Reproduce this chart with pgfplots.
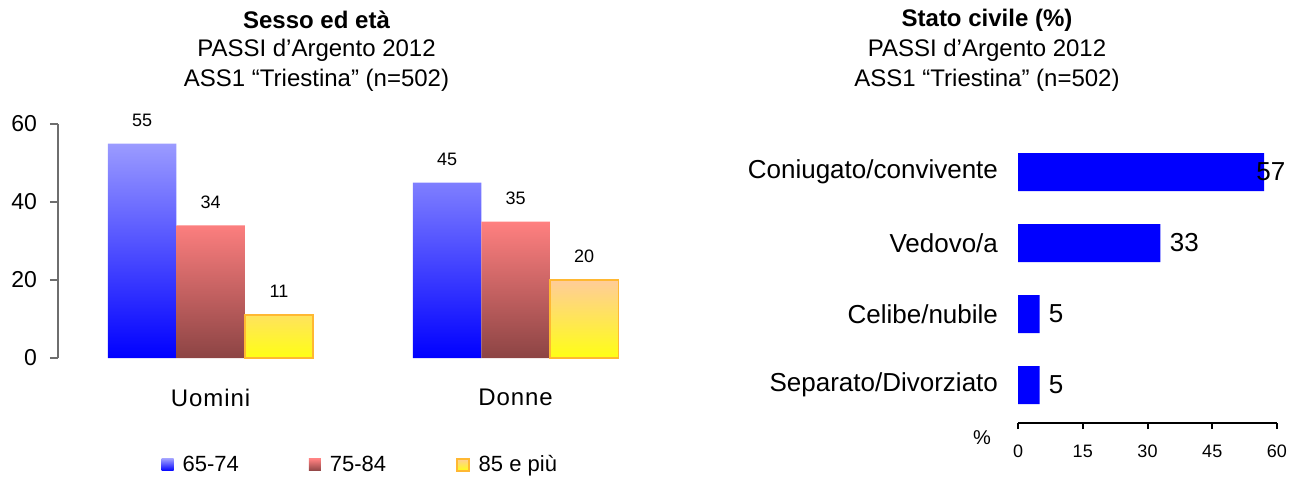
\documentclass[border=0pt]{standalone}
\usepackage{fontspec}
\setmainfont{Liberation Sans}
\usepackage{pgfplots}
\pgfplotsset{compat=1.18}

\definecolor{blueTop}{RGB}{155,155,255}
\definecolor{blueBot}{RGB}{0,0,255}
\definecolor{redTop}{RGB}{255,128,128}
\definecolor{redBot}{RGB}{140,68,68}
\definecolor{yelTop}{RGB}{255,204,153}
\definecolor{yelBot}{RGB}{255,255,20}
\definecolor{yelEdge}{RGB}{255,184,50}
\definecolor{axisGray}{RGB}{110,110,110}

\newcommand{\fs}[1]{\fontsize{#1}{#1}\selectfont}

\begin{document}
\begin{tikzpicture}
\path[use as bounding box] (0,0) rectangle (650pt,238.5pt);

% ---- titles ----
\node[font=\bfseries\fs{12}] at (158.25pt,228.5pt) {Sesso ed età};
\node[font=\fs{12}] at (158.25pt,213.5pt) {PASSI d’Argento 2012};
\node[font=\fs{12}] at (158.25pt,198.5pt) {ASS1 “Triestina” (n=502)};

\node[font=\bfseries\fs{12}] at (493.5pt,228.5pt) {Stato civile (\%)};
\node[font=\fs{12}] at (493.5pt,213.5pt) {PASSI d’Argento 2012};
\node[font=\fs{12}] at (493.5pt,198.5pt) {ASS1 “Triestina” (n=502)};

% ---- sex and age groups ----
\begin{axis}[
  at={(29pt,59.5pt)}, anchor=south west,
  scale only axis, width=291pt, height=117pt,
  xmin=-0.5, xmax=1.408, ymin=0, ymax=60,
  ybar=0pt, bar width=34.25pt,
  axis y line*=left, axis x line*=bottom,
  x axis line style={draw=none},
  xtick={0,1}, xticklabels={Uomini,Donne}, xtick style={draw=none},
  xticklabel style={font=\fs{12}\addfontfeature{LetterSpace=4}, yshift=-8pt},
  ytick={0,20,40,60},
  y axis line style={axisGray, line width=0.6pt},
  ytick style={axisGray, line width=0.6pt},
  tick align=outside, major tick length=4pt,
  yticklabel style={font=\fs{11.5}, xshift=-3pt},
  /pgf/number format/assume math mode=true,
  nodes near coords,
  every node near coord/.append style={font=\fs{9}, black, yshift=5pt},
  legend columns=3,
  legend style={at={(axis description cs:0.167,-0.457)}, anchor=west,
    draw=none, fill=none, font=\fs{11},
    /tikz/every odd column/.append style={column sep=2.5pt},
    /tikz/every even column/.append style={column sep=33pt}},
  legend image code/.code={\path[#1] (0pt,-3pt) rectangle (6pt,3pt);},
]
\addplot[draw=none, top color=blueTop, bottom color=blueBot]
  coordinates {(0,55) (1,45)};
\addplot[draw=none, top color=redTop, bottom color=redBot]
  coordinates {(0,34) (1,35)};
\addplot[draw=yelEdge, line width=0.8pt, top color=yelTop, bottom color=yelBot]
  coordinates {(0,11) (1,20)};
\legend{65-74,75-84,85 e più}
\end{axis}

% ---- marital status ----
\begin{axis}[
  at={(509pt,27pt)}, anchor=south west,
  scale only axis, width=129.5pt, height=143.25pt,
  xmin=0, xmax=60, ymin=-0.535, ymax=3.5,
  clip=false,
  xbar, bar width=19pt,
  axis x line*=bottom, axis y line*=left,
  y axis line style={draw=none}, ytick style={draw=none},
  ytick={0,1,2,3},
  yticklabels={Separato/Divorziato,Celibe/nubile,Vedovo/a,Coniugato/convivente},
  yticklabel style={font=\fs{13}, xshift=-3.5pt},
  xtick={0,15,30,45,60},
  x axis line style={line width=1pt},
  xtick style={line width=1pt, black},
  tick align=outside, major tick length=3pt,
  xticklabel style={font=\fs{9}, yshift=-4.5pt},
  /pgf/number format/assume math mode=true,
]
\addplot[fill=blue, draw=none, point meta=x,
  nodes near coords,
  visualization depends on={\thisrow{sh} \as \sh},
  every node near coord/.append style={font=\fs{13}, black, anchor=west,
    inner sep=0pt, xshift=\sh pt}]
  table[x=v, y=c] {
  c v  sh
  3 57 -4
  2 33 4.5
  1 5  4.5
  0 5  4.5
};
\node[font=\fs{10}] at (axis description cs:-0.139,-0.05) {\%};
\end{axis}
\end{tikzpicture}
\end{document}
